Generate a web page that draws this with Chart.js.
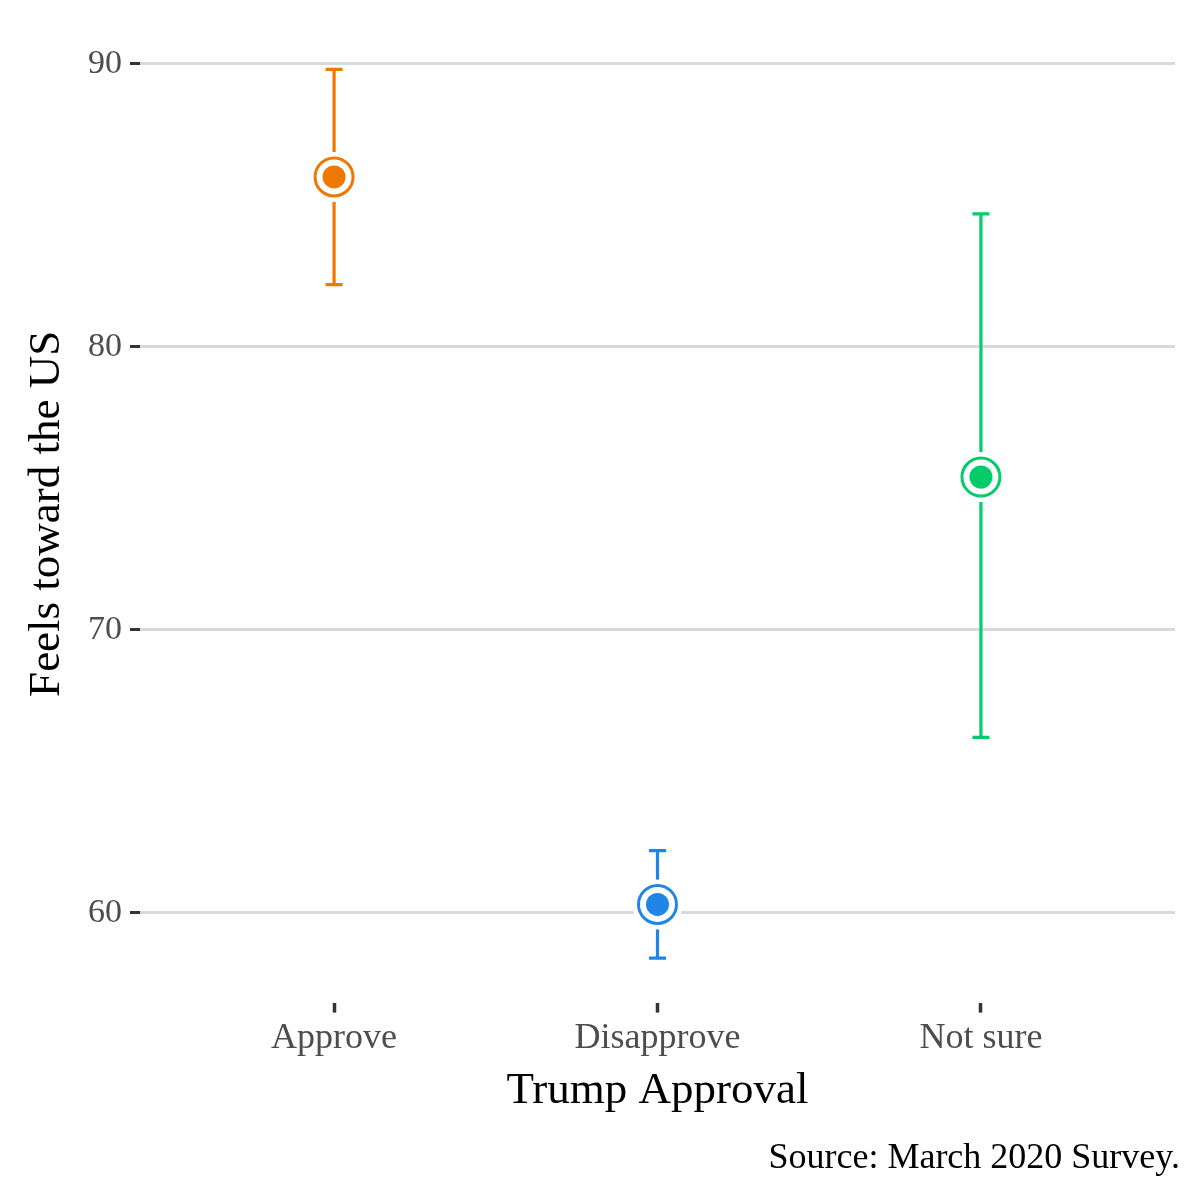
<!DOCTYPE html>
<html>
<head>
<meta charset="utf-8">
<script src="https://cdn.jsdelivr.net/npm/chart.js@4/dist/chart.umd.min.js"></script>
<style>
  body { margin: 0; background: #fff; }
  #wrap { width: 1200px; height: 1200px; }
</style>
</head>
<body>
<div id="wrap"><canvas id="approvalChart" width="1200" height="1200"></canvas></div>
<script>
const categories = ['Approve', 'Disapprove', 'Not sure'];
const means = [86.0, 60.3, 75.4];
const lower = [82.2, 58.4, 66.2];
const upper = [89.8, 62.2, 84.7];
const colors = ['#EF7800', '#1F86E8', '#03CC68'];
const yTicks = [60, 70, 80, 90];

// each dataset needs its own copy of the points
const makePts = () => means.map((v, i) => ({ x: i + 1, y: v }));

// error bars drawn behind the points, from the scales
const errorBars = {
    id: 'errorBars',
    beforeDatasetsDraw(chart) {
        const { ctx, scales: { x, y } } = chart;
        ctx.save();
        ctx.lineWidth = 3.2;
        categories.forEach((c, i) => {
            const px = x.getPixelForValue(i + 1);
            const top = y.getPixelForValue(upper[i]);
            const bot = y.getPixelForValue(lower[i]);
            ctx.strokeStyle = colors[i];
            ctx.beginPath();
            ctx.moveTo(px, top);
            ctx.lineTo(px, bot);
            ctx.moveTo(px - 8.5, top);
            ctx.lineTo(px + 8.5, top);
            ctx.moveTo(px - 8.5, bot);
            ctx.lineTo(px + 8.5, bot);
            ctx.stroke();
        });
        ctx.restore();
    }
};

const ctx = document.getElementById('approvalChart').getContext('2d');
const approvalChart = new Chart(ctx, {
    type: 'scatter',
    data: {
        datasets: [
            // lower order = drawn on top
            { order: 3, data: makePts(), pointRadius: 25, pointBackgroundColor: '#fff', pointBorderColor: '#fff', pointBorderWidth: 0, pointHoverRadius: 25 },
            { order: 2, data: makePts(), pointRadius: 19, pointBackgroundColor: '#fff', pointBorderColor: colors, pointBorderWidth: 3, pointHoverRadius: 19 },
            { order: 1, data: makePts(), pointRadius: 11.5, pointBackgroundColor: colors, pointBorderColor: colors, pointBorderWidth: 0, pointHoverRadius: 11.5 }
        ]
    },
    options: {
        responsive: false,
        devicePixelRatio: 1,
        animation: false,
        layout: { padding: { left: 20, right: 20, top: 23, bottom: 20 } },
        plugins: {
            legend: { display: false },
            tooltip: { enabled: false },
            title: {
                display: true,
                text: 'Source: March 2020 Survey.',
                position: 'bottom',
                align: 'end',
                color: '#000',
                font: { family: 'Liberation Serif', size: 36, weight: 'normal' },
                padding: { top: 19, bottom: 0 }
            }
        },
        scales: {
            x: {
                type: 'linear',
                min: 0.4,
                max: 3.6,
                afterBuildTicks: axis => { axis.ticks = categories.map((c, i) => ({ value: i + 1 })); },
                afterFit: axis => { axis.paddingLeft = 0; axis.paddingRight = 0; },
                ticks: {
                    callback: v => categories[v - 1],
                    color: '#4d4d4d',
                    font: { family: 'Liberation Serif', size: 36 },
                    padding: 4
                },
                grid: { drawOnChartArea: false, tickLength: 10, tickColor: '#333', tickWidth: 3.5 },
                border: { display: false },
                title: {
                    display: true,
                    text: 'Trump Approval',
                    color: '#000',
                    font: { family: 'Liberation Serif', size: 45 },
                    padding: { top: 0, bottom: 0 }
                }
            },
            y: {
                min: 56.83,
                max: 91.37,
                afterBuildTicks: axis => { axis.ticks = yTicks.map(v => ({ value: v })); },
                afterFit: axis => { axis.paddingTop = 0; },
                ticks: {
                    color: '#4d4d4d',
                    font: { family: 'Liberation Serif', size: 34 },
                    padding: 8
                },
                grid: { color: '#d9d9d9', lineWidth: 3, tickLength: 10, tickColor: '#333', tickWidth: 3 },
                border: { display: false },
                title: {
                    display: true,
                    text: 'Feels toward the US',
                    color: '#000',
                    font: { family: 'Liberation Serif', size: 45 },
                    padding: { top: 0, bottom: 6 }
                }
            }
        }
    },
    plugins: [errorBars]
});
</script>
</body>
</html>
